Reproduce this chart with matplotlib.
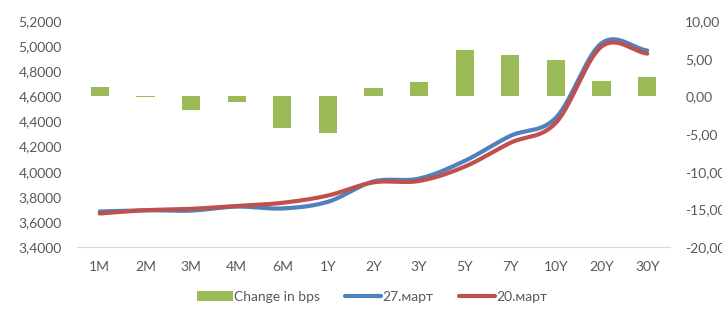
import numpy as np
import matplotlib
matplotlib.use('Agg')
from matplotlib import pyplot as plt
from matplotlib.ticker import FuncFormatter

tenors = ['1M', '2M', '3M', '4M', '6M', '1Y', '2Y', '3Y', '5Y', '7Y', '10Y', '20Y', '30Y']
change_bps = [1.2, -0.15, -1.8, -0.7, -4.2, -4.8, 1.05, 1.95, 6.1, 5.45, 4.8, 2.05, 2.6]
mar27 = [3.683, 3.693, 3.690, 3.722, 3.707, 3.760, 3.922, 3.945, 4.086, 4.285, 4.430, 5.023, 4.965]
mar20 = [3.667, 3.693, 3.704, 3.727, 3.752, 3.810, 3.915, 3.926, 4.040, 4.230, 4.390, 4.997, 4.940]

plt.rcParams['font.family'] = ['Lato', 'DejaVu Sans']

GREEN = '#9BBB59'
BLUE = '#4F81BD'
RED = '#C0504D'
GREY = '#595959'


def smooth(y, n=30):
    # catmull-rom curve through the points, like Excel's smoothed line
    y = np.asarray(y, float)
    x = np.arange(len(y), dtype=float)
    p = np.concatenate([[2 * y[0] - y[1]], y, [2 * y[-1] - y[-2]]])
    xs, ys = [], []
    t = np.linspace(0, 1, n, endpoint=False)
    for i in range(len(y) - 1):
        p0, p1, p2, p3 = p[i], p[i + 1], p[i + 2], p[i + 3]
        seg = 0.5 * ((2 * p1) + (-p0 + p2) * t + (2 * p0 - 5 * p1 + 4 * p2 - p3) * t ** 2
                     + (-p0 + 3 * p1 - 3 * p2 + p3) * t ** 3)
        xs.append(x[i] + t)
        ys.append(seg)
    xs.append([x[-1]])
    ys.append([y[-1]])
    return np.concatenate(xs), np.concatenate(ys)


fig = plt.figure(figsize=(7.22, 3.09), dpi=100)
ax = fig.add_axes([0.1066, 0.2006, 0.8214, 0.7314])
ax2 = ax.twinx()

pos = np.arange(len(tenors))
bars = ax2.bar(pos, change_bps, width=0.4, color=GREEN, label='Change in bps')
ax2.set_ylim(-20, 10)
ax2.set_yticks(np.arange(-20, 10.1, 5))
ax2.yaxis.set_major_formatter(FuncFormatter(lambda v, p: ('%.2f' % v).replace('.', ',')))

xs, ys = smooth(mar27)
l1, = ax.plot(xs, ys, color=BLUE, lw=3, solid_capstyle='round', label='27.март')
xs, ys = smooth(mar20)
l2, = ax.plot(xs, ys, color=RED, lw=3, solid_capstyle='round', label='20.март')
ax.set_ylim(3.4, 5.2)
ax.set_yticks(np.arange(3.4, 5.21, 0.2))
ax.yaxis.set_major_formatter(FuncFormatter(lambda v, p: ('%.4f' % v).replace('.', ',')))
ax.set_xlim(-0.5, len(tenors) - 0.5)
ax.set_xticks(pos)
ax.set_xticklabels(tenors)

ax.set_zorder(ax2.get_zorder() + 1)
ax.patch.set_visible(False)

for a in (ax, ax2):
    for s in a.spines.values():
        s.set_visible(False)
    a.tick_params(length=0, labelsize=10, colors=GREY)
ax.spines['bottom'].set_visible(True)
ax.spines['bottom'].set_color('#D9D9D9')
ax.tick_params(axis='y', pad=11)
ax.tick_params(axis='x', pad=10)
ax2.tick_params(axis='y', pad=11)

leg = fig.legend([bars, l1, l2], ['Change in bps', '27.март', '20.март'],
                 loc='center', bbox_to_anchor=(0.515, 0.039), ncol=3, frameon=False,
                 fontsize=10, handlelength=2.6, handletextpad=0.1, columnspacing=1.8)
for t in leg.get_texts():
    t.set_color(GREY)

fig.savefig('out.png', dpi=100)
